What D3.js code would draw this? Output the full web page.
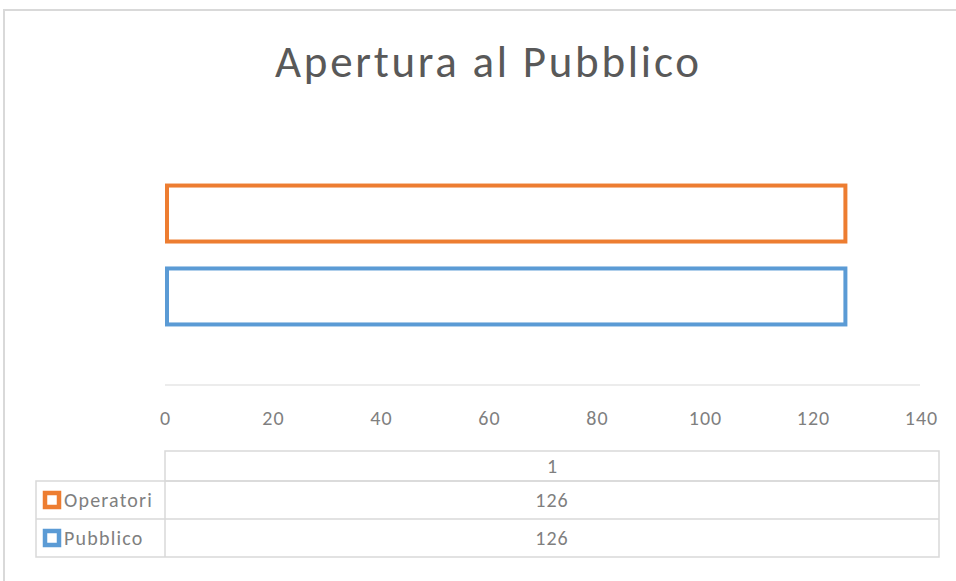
<!DOCTYPE html>
<html>
<head>
<meta charset="utf-8">
<script src="https://cdn.jsdelivr.net/npm/d3@7"></script>
<style>
    body { margin: 0; background: #fff; }
    svg { display: block; font-family: Calibri, Carlito, Lato, sans-serif; }
</style>
</head>
<body>
<svg id="chart" width="956" height="581"></svg>
<script>
// chart data
const title = "Apertura al Pubblico";
const categories = ["1"];
const seriesNames = ["Operatori", "Pubblico"];
const seriesValues = [[126], [126]];
const seriesColors = ["#ed7d31", "#5b9bd5"];
const xTicks = [0, 20, 40, 60, 80, 100, 120, 140];

const svg = d3.select("#chart");
const labelColor = "#7f7f7f";

// outer chart frame (cropped on right and bottom)
svg.append("path")
    .attr("d", "M4,581 V10 H956")
    .attr("fill", "none")
    .attr("stroke", "#d9d9d9")
    .attr("stroke-width", 2);

svg.append("text")
    .attr("x", 487)
    .attr("y", 77)
    .attr("text-anchor", "middle")
    .attr("fill", "#595959")
    .attr("textLength", 424)
    .attr("lengthAdjust", "spacing")
    .style("font-size", "45px")
    .text(title);

let plot = { left: 165, right: 921, top: 125, bottom: 385 };

let x = d3.scaleLinear().domain([0, 140]).range([plot.left, plot.right]);

// one category; series stacked top-to-bottom inside the band
let yCat = d3.scaleBand().domain(categories).range([plot.top, plot.bottom]);
let ySeries = d3.scaleBand()
    .domain(seriesNames)
    .range([0, yCat.bandwidth()])
    .paddingInner(0.325)
    .paddingOuter(0.73);

svg.append("line")
    .attr("x1", plot.left).attr("x2", x(140) - 1)
    .attr("y1", plot.bottom).attr("y2", plot.bottom)
    .attr("stroke", "#d9d9d9")
    .attr("stroke-width", 1);

let axis = d3.axisBottom(x).tickValues(xTicks).tickSize(0).tickPadding(0);
let axisG = svg.append("g")
    .attr("transform", "translate(0," + (plot.bottom + 40) + ")")
    .call(axis);
axisG.select(".domain").remove();
axisG.selectAll("text")
    .attr("dy", 0)
    .attr("fill", labelColor)
    .style("font-size", "20px")
    .style("letter-spacing", "1px")
    .style("font-family", "Calibri, Carlito, Lato, sans-serif");

let bars = [];
seriesNames.forEach((name, si) => {
    categories.forEach((cat, ci) => {
        bars.push({ name: name, cat: cat, value: seriesValues[si][ci], color: seriesColors[si] });
    });
});

svg.append("g")
    .selectAll("rect")
    .data(bars)
    .enter()
    .append("rect")
    .attr("x", x(0) + 2)
    .attr("y", d => yCat(d.cat) + ySeries(d.name))
    .attr("width", d => x(d.value) - x(0) - 2)
    .attr("height", ySeries.bandwidth())
    .attr("fill", "none")
    .attr("stroke", d => d.color)
    .attr("stroke-width", 4);

// data table below the axis
let table = { left: 36, mid: 165, right: 939, rows: [451, 481, 519, 557] };
let gridColor = "#d9d9d9";
let tableG = svg.append("g").attr("stroke", gridColor).attr("stroke-width", 1.5).attr("fill", "none");

tableG.append("rect")
    .attr("x", table.mid).attr("y", table.rows[0])
    .attr("width", table.right - table.mid).attr("height", table.rows[1] - table.rows[0]);
tableG.append("rect")
    .attr("x", table.left).attr("y", table.rows[1])
    .attr("width", table.right - table.left).attr("height", table.rows[3] - table.rows[1]);
tableG.append("line")
    .attr("x1", table.left).attr("x2", table.right)
    .attr("y1", table.rows[2]).attr("y2", table.rows[2]);
tableG.append("line")
    .attr("x1", table.mid).attr("x2", table.mid)
    .attr("y1", table.rows[1]).attr("y2", table.rows[3]);

let colX = d3.scaleBand().domain(categories).range([table.mid, table.right]);

svg.selectAll(".cat-head")
    .data(categories)
    .enter()
    .append("text")
    .attr("class", "cat-head")
    .attr("x", d => colX(d) + colX.bandwidth() / 2)
    .attr("y", (table.rows[0] + table.rows[1]) / 2 + 7)
    .attr("text-anchor", "middle")
    .attr("fill", labelColor)
    .style("font-size", "20px")
    .text(d => d);

seriesNames.forEach((name, si) => {
    let rowTop = table.rows[si + 1];
    let rowMid = (rowTop + table.rows[si + 2]) / 2;

    svg.append("rect")
        .attr("x", 45).attr("y", rowMid - 7)
        .attr("width", 14).attr("height", 14)
        .attr("fill", "#fff")
        .attr("stroke", seriesColors[si])
        .attr("stroke-width", 4.5);

    svg.append("text")
        .attr("x", 64)
        .attr("y", rowMid + 7)
        .attr("fill", labelColor)
        .style("font-size", "20px")
        .style("letter-spacing", "1.2px")
        .text(name);

    categories.forEach((cat, ci) => {
        svg.append("text")
            .attr("x", colX(cat) + colX.bandwidth() / 2)
            .attr("y", rowMid + 7)
            .attr("text-anchor", "middle")
            .attr("fill", labelColor)
            .style("font-size", "20px")
            .style("letter-spacing", "1px")
            .text(seriesValues[si][ci]);
    });
});
</script>
</body>
</html>
